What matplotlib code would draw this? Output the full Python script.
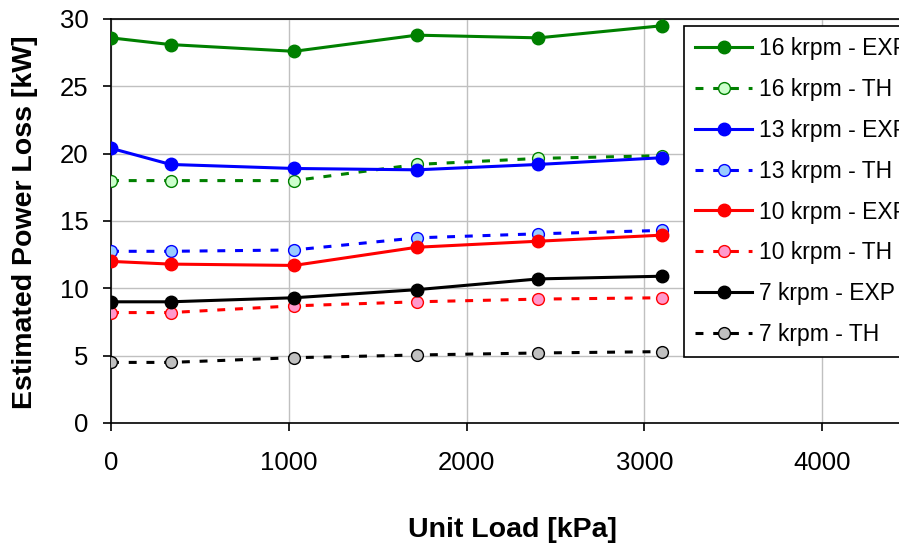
import matplotlib
matplotlib.use("Agg")
import matplotlib.pyplot as plt

plt.rcParams['font.family'] = ['Liberation Sans', 'DejaVu Sans']

load_kpa = [0, 335, 1030, 1720, 2405, 3100]
exp_16 = [28.6, 28.1, 27.6, 28.8, 28.6, 29.5]
th_16 = [18.0, 18.0, 18.0, 19.2, 19.65, 19.85]
exp_13 = [20.4, 19.2, 18.9, 18.8, 19.2, 19.7]
th_13 = [12.75, 12.75, 12.85, 13.75, 14.05, 14.3]
exp_10 = [12.0, 11.8, 11.7, 13.05, 13.5, 13.95]
th_10 = [8.2, 8.2, 8.7, 9.0, 9.2, 9.3]
exp_7 = [9.0, 9.0, 9.3, 9.9, 10.7, 10.9]
th_7 = [4.5, 4.5, 4.85, 5.05, 5.2, 5.3]

series = [
    ("16 krpm - EXP", exp_16, '#008000', '-', '#008000'),
    ("16 krpm - TH", th_16, '#008000', '--', '#ccffcc'),
    ("13 krpm - EXP", exp_13, '#0000ff', '-', '#0000ff'),
    ("13 krpm - TH", th_13, '#0000ff', '--', '#99ccff'),
    ("10 krpm - EXP", exp_10, '#ff0000', '-', '#ff0000'),
    ("10 krpm - TH", th_10, '#ff0000', '--', '#ff99cc'),
    ("7 krpm - EXP", exp_7, '#000000', '-', '#000000'),
    ("7 krpm - TH", th_7, '#000000', '--', '#c0c0c0'),
]

W, H = 899, 548
fig = plt.figure(figsize=(W / 100, H / 100), dpi=100)
px_per_k = 177.75
xmax = 5000
ax = fig.add_axes([111 / W, (H - 423) / H, xmax / 1000 * px_per_k / W, (423 - 19) / H])

for label, vals, col, ls, fc in series:
    if ls == '-':
        ax.plot(load_kpa, vals, ls, color=col, lw=2.2, marker='o', ms=9,
                mfc=fc, mec=col, label=label, zorder=3)
    else:
        ax.plot(load_kpa, vals, color=col, lw=2.2, dashes=(2.6, 3.2), marker='o', ms=8.5,
                mfc=fc, mec=col, mew=1.0, label=label, zorder=3)

ax.set_xlim(0, xmax)
ax.set_ylim(0, 30)
ax.set_xticks([0, 1000, 2000, 3000, 4000])
ax.set_yticks([0, 5, 10, 15, 20, 25, 30])
ax.grid(True, color='#c0c0c0', lw=1.0)
ax.set_axisbelow(True)
for s in ax.spines.values():
    s.set_color('#000000')
    s.set_linewidth(1.2)
ax.tick_params(axis='both', direction='out', length=6, width=1.2, labelsize=18.5)
ax.tick_params(axis='y', pad=10)
ax.tick_params(axis='x', pad=14)

fig.text(513 / W, 1 - 530 / H, "Unit Load [kPa]", fontsize=20.5, fontweight='bold',
         ha='center', va='center')
fig.text(25 / W, 1 - 222 / H, "Estimated Power Loss [kW]", fontsize=20.5, fontweight='bold',
         ha='center', va='center', rotation=90)

leg = ax.legend(loc='upper left', bbox_to_anchor=(684 / W, 1 - 26 / H),
                bbox_transform=fig.transFigure, fontsize=16.5, frameon=True, fancybox=False,
                edgecolor='#000000', framealpha=1, handlelength=2.5, labelspacing=0.78,
                borderpad=0.48, handletextpad=0.3, borderaxespad=0)
leg.get_frame().set_linewidth(1.2)

fig.savefig("out.png", dpi=100)
